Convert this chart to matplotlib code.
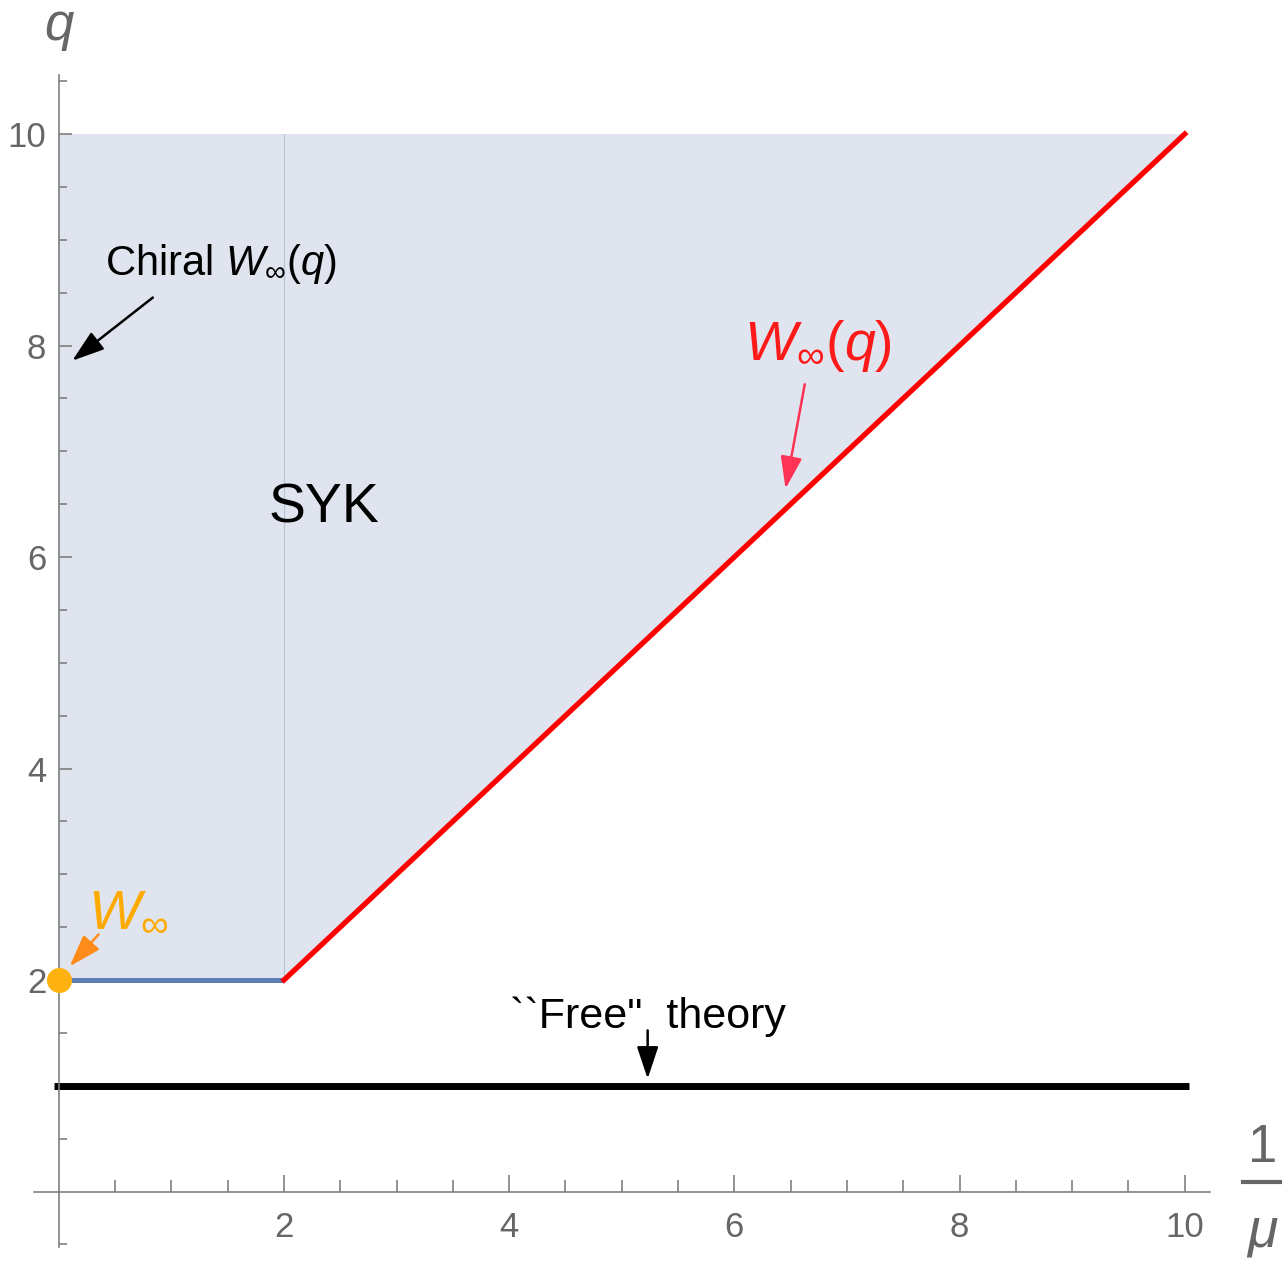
import numpy as np
import matplotlib.pyplot as plt
from matplotlib.lines import Line2D

# =============================================================================
# DATA
# =============================================================================

# SYK region (1/mu, q)
region_x = [0, 2, 10, 0]
region_q = [2, 2, 10, 10]

# chiral W_inf line (blue) and W_inf(q) line (red)
chiral_x = [0, 2]
chiral_q = [2, 2]
winf_x = [2, 10]
winf_q = [2, 10]

# boundary at 1/mu = 2
wall_x = [2, 2]
wall_q = [2, 10]

# "free" theory line
free_x = [-0.04, 10.04]
free_q = [1, 1]

# W_inf point
point_x = [0]
point_q = [2]

x_major = [2, 4, 6, 8, 10]
y_major = [2, 4, 6, 8, 10]

# =============================================================================
# STYLE
# =============================================================================

plt.rcParams['font.family'] = ['Liberation Sans', 'DejaVu Sans']
plt.rcParams['mathtext.fontset'] = 'custom'
plt.rcParams['mathtext.rm'] = 'Liberation Sans'
plt.rcParams['mathtext.it'] = 'Liberation Sans:italic'

GRAY = '#666666'
AXIS = '#808080'

fig = plt.figure(figsize=(12.87, 12.65), dpi=100)
ax = fig.add_axes([34 / 1287, 18.5 / 1265, 1175.5 / 1287, 1171.7 / 1265])

ax.fill(region_x, region_q, color='#dfe4ee', zorder=1, lw=0)
ax.plot(wall_x, wall_q, color='#b8c5d8', lw=0.8, zorder=2)
ax.plot(chiral_x, chiral_q, color='#5b7fb6', lw=3.6, zorder=3, solid_capstyle='butt')
ax.plot(winf_x, winf_q, color='#ff0000', lw=3.8, zorder=3)
ax.plot(free_x, free_q, color='black', lw=5, zorder=3, solid_capstyle='butt')
ax.plot(point_x, point_q, 'o', color='#ffb20f', ms=17, zorder=5, clip_on=False)

# axes through the origin
ax.set_xlim(-0.22, 10.22)
ax.set_ylim(-0.52, 10.56)
for side in ['top', 'right']:
    ax.spines[side].set_visible(False)
ax.spines['left'].set_position(('data', 0))
ax.spines['bottom'].set_position(('data', 0))
for side in ['left', 'bottom']:
    ax.spines[side].set_color(AXIS)
    ax.spines[side].set_linewidth(1.2)
    ax.spines[side].set_zorder(4)

ax.set_xticks(x_major)
ax.set_yticks(y_major)
ax.set_xticks([v for v in np.arange(0.5, 10.01, 0.5) if v not in x_major], minor=True)
ax.set_yticks([v for v in np.arange(-0.5, 10.51, 0.5) if v not in y_major and v != 0], minor=True)
ax.tick_params(axis='x', which='major', direction='in', length=12, width=1.2,
               color=AXIS, labelcolor=GRAY, labelsize=25, pad=14)
ax.tick_params(axis='x', which='minor', direction='in', length=8.5, width=1.2, color=AXIS)
ax.tick_params(axis='y', which='major', direction='in', length=9.5, width=1.2,
               color=AXIS, labelcolor=GRAY, labelsize=25, pad=9)
ax.tick_params(axis='y', which='minor', direction='in', length=6, width=1.2, color=AXIS)

# axis labels
ax.text(0.0, 10.89, 'q', fontsize=38, style='italic', color=GRAY, ha='center',
        va='baseline', clip_on=False)
ax.text(10.69, 0.28, '1', fontsize=38, color=GRAY, ha='center', va='baseline', clip_on=False)
ax.add_line(Line2D([10.52, 10.85], [0.09, 0.09], color=GRAY, lw=3, clip_on=False))
ax.text(10.69, -0.52, 'μ', fontsize=40, style='italic', color=GRAY, ha='center',
        va='baseline', clip_on=False)

# labels and arrows
ax.text(1.86, 6.33, 'SYK', fontsize=40, ha='left', va='baseline', zorder=6)
ax.text(0.41, 8.67, r'Chiral $W_{\infty}(q)$', fontsize=30, ha='left', va='baseline', zorder=6)
ax.annotate('', xy=(0.10, 7.84), xytext=(0.855, 8.47),
            arrowprops=dict(arrowstyle='-|>,head_length=0.9,head_width=0.3',
                            color='black', lw=1.8, mutation_scale=22))

ax.text(6.09, 7.86, r'$W_{\infty}(q)$', fontsize=40, color='#ff1a1a', ha='left',
        va='baseline', zorder=6)
ax.annotate('', xy=(6.45, 6.62), xytext=(6.63, 7.66),
            arrowprops=dict(arrowstyle='-|>,head_length=0.9,head_width=0.3',
                            color='#ff3355', lw=1.8, mutation_scale=22))

ax.text(0.26, 2.52, r'$W_{\infty}$', fontsize=40, color='#ffaa00', ha='left',
        va='baseline', zorder=6)
ax.annotate('', xy=(0.08, 2.11), xytext=(0.37, 2.45),
            arrowprops=dict(arrowstyle='-|>,head_length=0.9,head_width=0.3',
                            color='#ff8c1a', lw=1.8, mutation_scale=22))

ax.text(4.01, 1.55, '``Free"  theory', fontsize=31, ha='left', va='baseline', zorder=6)
ax.annotate('', xy=(5.23, 1.04), xytext=(5.23, 1.55),
            arrowprops=dict(arrowstyle='-|>,head_length=0.9,head_width=0.3',
                            color='black', lw=1.8, mutation_scale=22))

fig.savefig('out.png', dpi=100, facecolor='white')
